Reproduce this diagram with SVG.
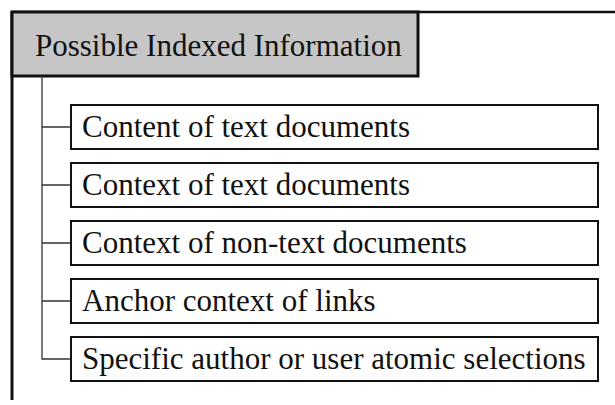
<svg xmlns="http://www.w3.org/2000/svg" width="615" height="405" viewBox="0 0 615 405">
<style>
.t{font-family:"Liberation Serif","Times New Roman",serif;font-size:31px;fill:#111}
.box{fill:#fff;stroke:#111;stroke-width:2}
.conn{stroke:#333;stroke-width:1.3;fill:none}
</style>
<rect width="615" height="405" fill="#fff"/>
<g id="frame">
<line x1="12" y1="12" x2="615" y2="12" stroke="#111" stroke-width="2.5"/>
<line x1="12" y1="11" x2="12" y2="400" stroke="#111" stroke-width="3"/>
</g>
<g id="header">
<rect x="12" y="12" width="406" height="64" fill="#c6c6c6" stroke="#111" stroke-width="3"/>
<text class="t" x="35" y="56">Possible Indexed Information</text>
</g>
<g id="connectors">
<path class="conn" d="M42 76 V359 H71 M42 127 H71 M42 185 H71 M42 243 H71 M42 301 H71"/>
</g>
<g id="n1"><rect class="box" x="71" y="105" width="527" height="44"/><text class="t" x="82" y="137">Content of text documents</text></g>
<g id="n2"><rect class="box" x="71" y="163" width="527" height="44"/><text class="t" x="82" y="195">Context of text documents</text></g>
<g id="n3"><rect class="box" x="71" y="221" width="527" height="44"/><text class="t" x="82" y="253">Context of non-text documents</text></g>
<g id="n4"><rect class="box" x="71" y="279" width="527" height="44"/><text class="t" x="82" y="311">Anchor context of links</text></g>
<g id="n5"><rect class="box" x="71" y="337" width="527" height="44"/><text class="t" x="82" y="369">Specific author or user atomic selections</text></g>
</svg>
